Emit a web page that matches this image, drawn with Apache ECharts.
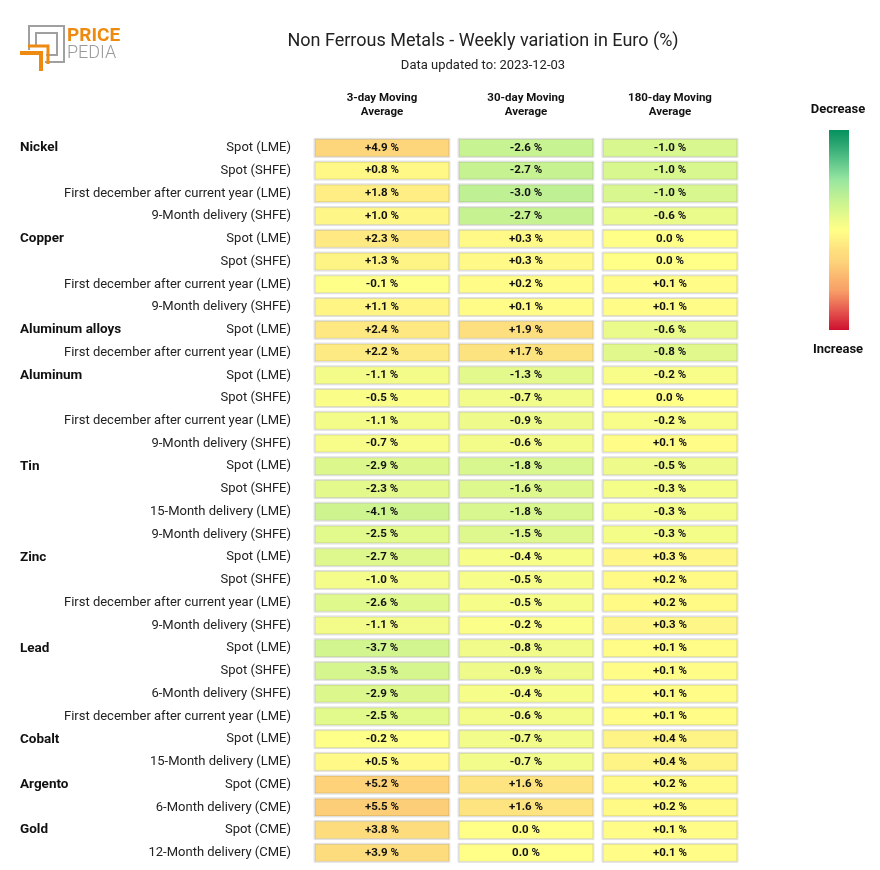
<!DOCTYPE html>
<html>
<head>
<meta charset="utf-8">
<script src="https://cdn.jsdelivr.net/npm/echarts@6/dist/echarts.min.js"></script>
<style>
html,body{margin:0;padding:0;background:#fff;}
#main{width:880px;height:870px;}
</style>
</head>
<body>
<div id="main"></div>
<script>
// ---- data ----
var columns = ['3-day Moving\nAverage', '30-day Moving\nAverage', '180-day Moving\nAverage'];
var groupNames = ['Nickel','Copper','Aluminum alloys','Aluminum','Tin','Zinc','Lead','Cobalt','Argento','Gold'];
var groupSizes = [4,4,2,4,4,4,4,2,2,2];
var subLabels = [
  'Spot (LME)','Spot (SHFE)','First december after current year (LME)','9-Month delivery (SHFE)',
  'Spot (LME)','Spot (SHFE)','First december after current year (LME)','9-Month delivery (SHFE)',
  'Spot (LME)','First december after current year (LME)',
  'Spot (LME)','Spot (SHFE)','First december after current year (LME)','9-Month delivery (SHFE)',
  'Spot (LME)','Spot (SHFE)','15-Month delivery (LME)','9-Month delivery (SHFE)',
  'Spot (LME)','Spot (SHFE)','First december after current year (LME)','9-Month delivery (SHFE)',
  'Spot (LME)','Spot (SHFE)','6-Month delivery (SHFE)','First december after current year (LME)',
  'Spot (LME)','15-Month delivery (LME)',
  'Spot (CME)','6-Month delivery (CME)',
  'Spot (CME)','12-Month delivery (CME)'
];
var ma3 = [4.9,0.8,1.8,1.0,2.3,1.3,-0.1,1.1,2.4,2.2,-1.1,-0.5,-1.1,-0.7,-2.9,-2.3,-4.1,-2.5,-2.7,-1.0,-2.6,-1.1,-3.7,-3.5,-2.9,-2.5,-0.2,0.5,5.2,5.5,3.8,3.9];
var ma30 = [-2.6,-2.7,-3.0,-2.7,0.3,0.3,0.2,0.1,1.9,1.7,-1.3,-0.7,-0.9,-0.6,-1.8,-1.6,-1.8,-1.5,-0.4,-0.5,-0.5,-0.2,-0.8,-0.9,-0.4,-0.6,-0.7,-0.7,1.6,1.6,0.0,0.0];
var ma180 = [-1.0,-1.0,-1.0,-0.6,0.0,0.0,0.1,0.1,-0.6,-0.8,-0.2,0.0,-0.2,0.1,-0.5,-0.3,-0.3,-0.3,0.3,0.2,0.2,0.3,0.1,0.1,0.1,0.1,0.4,0.4,0.2,0.2,0.1,0.1];
var colorScales = [16, 9, 5]; // colour saturation range of each column (±)

// ---- styling ----
var FONT = 'Roboto, sans-serif';
var scaleColors = ['#05925f','#209f6b','#3bb07a','#5ac388','#78d595','#98e6a0','#b0ec99','#c6f292','#d8f78e','#eefb8a','#ffff88',
  '#fef084','#fde07f','#fdd67b','#fcc474','#fab16d','#f8a068','#f07e5c','#e65a50','#da3540','#cf1030'];

var rowIds = subLabels.map(function(_, i){ return 'r' + i; });
var groupAtRow = {};
(function(){ var r = 0; groupNames.forEach(function(g, k){ groupAtRow[r] = g; r += groupSizes[k]; }); })();

function fmt(v){
  if (Math.abs(v) < 1e-9) return '0.0 %';
  return (v > 0 ? '+' : '') + v.toFixed(1) + ' %';
}

var allCols = [ma3, ma30, ma180];

function renderCell(params, api){
  var c = api.coord([api.value(0), api.value(1)]);
  var s = api.size([1, 1]);
  var w = s[0] * 0.93, h = s[1] * 0.75;
  var x = c[0] - w / 2, y = c[1] - h / 2;
  return {
    type: 'group',
    children: [
      {type:'rect', shape:{x:x-1, y:y-1, width:w+2, height:h+2}, style:{fill:'none', stroke:'#e2e2e2', lineWidth:1}},
      {type:'rect', shape:{x:x, y:y, width:w, height:h}, style:{fill: api.visual('color'), stroke:'rgba(0,0,0,0.13)', lineWidth:1}},
      {type:'text', x:c[0], y:c[1], style:{text: fmt(api.value(2)), fill:'#111', font:'bold 11.5px ' + FONT, align:'center', verticalAlign:'middle'}}
    ]
  };
}

var series = allCols.map(function(arr, ci){
  return {
    type: 'custom',
    renderItem: renderCell,
    encode: {x: 0, y: 1},
    data: arr.map(function(v, ri){ return [ci, ri, v]; })
  };
});

var visualMaps = colorScales.map(function(S, ci){
  return {show:false, type:'continuous', seriesIndex: ci, dimension: 2, min: -S, max: S, inRange:{color: scaleColors}};
});

var gradStops = scaleColors.map(function(c, i){ return {offset: i / (scaleColors.length - 1), color: c}; });

var option = {
  backgroundColor: '#fff',
  animation: false,
  title: {
    text: 'Non Ferrous Metals - Weekly variation in Euro (%)',
    subtext: 'Data updated to: 2023-12-03',
    left: 478, top: 27, textAlign: 'center', itemGap: 9,
    textStyle: {fontFamily: FONT, fontSize: 18, fontWeight: 'normal', color: '#222'},
    subtextStyle: {fontFamily: FONT, fontSize: 13, color: '#222'}
  },
  grid: {left: 310, top: 136.5, width: 432, height: 727.7},
  xAxis: {
    type: 'category', position: 'top', data: columns,
    axisLine: {show:false}, axisTick: {show:false}, splitLine: {show:false},
    axisLabel: {fontFamily: FONT, fontWeight: 'bold', fontSize: 11.5, color: '#111', lineHeight: 14, margin: 17}
  },
  yAxis: [
    {
      type: 'category', inverse: true, data: rowIds,
      axisLine: {show:false}, axisTick: {show:false}, splitLine: {show:false},
      axisLabel: {margin: 19, fontFamily: FONT, fontSize: 13, color: '#222',
        formatter: function(v, i){ return subLabels[i]; }}
    },
    {
      type: 'category', inverse: true, data: rowIds, position: 'left',
      axisLine: {show:false}, axisTick: {show:false}, splitLine: {show:false},
      axisLabel: {margin: 290, align: 'left', fontFamily: FONT, fontSize: 13.5, fontWeight: 'bold', color: '#111',
        padding: [0,0,4,0],
        formatter: function(v, i){ return groupAtRow[i] || ''; }}
    }
  ],
  visualMap: visualMaps,
  series: series,
  graphic: [
    // logo
    {type:'polyline', shape:{points:[[29,50],[29,26],[64,26],[64,62],[45,62]]}, style:{fill:'none', stroke:'#a0a0a0', lineWidth:2}},
    {type:'polyline', shape:{points:[[36,45],[36,33],[57,33],[57,55],[46,55]]}, style:{fill:'none', stroke:'#a0a0a0', lineWidth:2}},
    {type:'polyline', shape:{points:[[20,53],[41,53],[41,71]]}, style:{fill:'none', stroke:'#ee8a10', lineWidth:4}},
    {type:'polyline', shape:{points:[[28,46],[48,46],[48,64]]}, style:{fill:'none', stroke:'#ee8a10', lineWidth:3}},
    {type:'text', x:67, y:27, style:{text:'PRICE', fill:'#ee8a10', font:'bold 19px ' + FONT}},
    {type:'text', x:67, y:44, style:{text:'PEDIA', fill:'#9a9a9a', font:'300 18px ' + FONT}},
    // colour bar
    {type:'rect', shape:{x:829, y:130, width:20, height:200},
      style:{fill:{type:'linear', x:0, y:0, x2:0, y2:1, colorStops: gradStops}}},
    {type:'text', x:838, y:110, style:{text:'Decrease', fill:'#111', font:'bold 13px ' + FONT, align:'center', verticalAlign:'middle'}},
    {type:'text', x:838, y:350, style:{text:'Increase', fill:'#111', font:'bold 13px ' + FONT, align:'center', verticalAlign:'middle'}}
  ]
};

var chart = echarts.init(document.getElementById('main'), null, {renderer: 'canvas'});
chart.setOption(option);
</script>
</body>
</html>
